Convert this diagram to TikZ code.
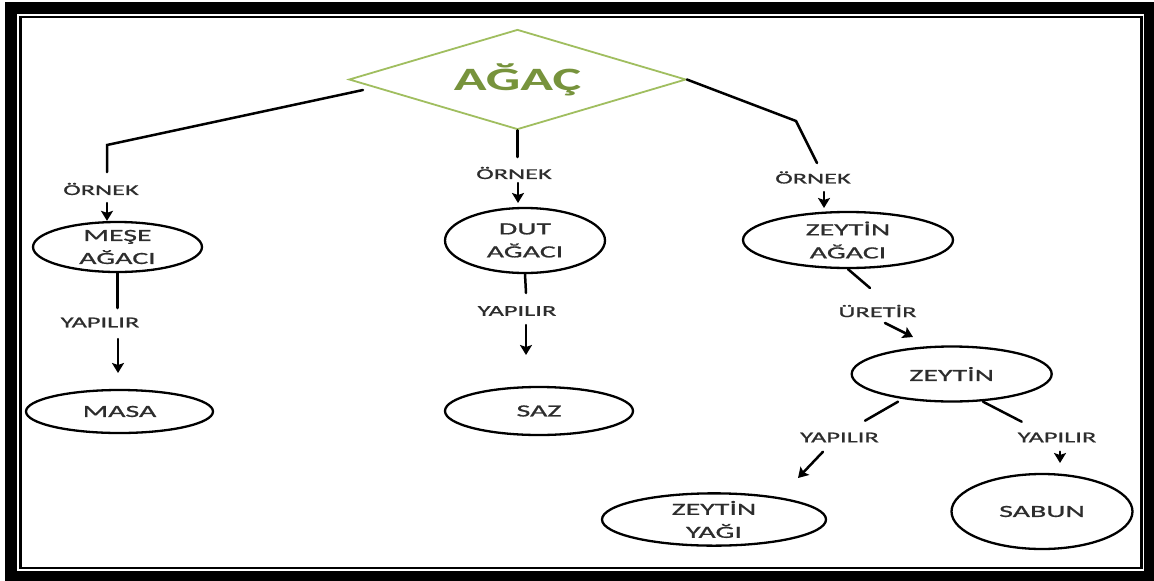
\documentclass[tikz,border=0pt]{standalone}
\usepackage{fontspec}
\usetikzlibrary{shapes.geometric,arrows.meta}
\newfontfamily\nf{Carlito}[FakeStretch=1.76,FakeBold=0.9]
\newfontfamily\tf{Carlito}[FakeStretch=1.66]
\definecolor{txt}{RGB}{45,45,45}
\definecolor{olivedk}{RGB}{119,147,60}
\definecolor{olivelt}{RGB}{160,190,95}
\begin{document}
\begin{tikzpicture}[x=1pt,y=-1pt,
  ell/.style={draw=black, line width=2.3pt, ellipse, inner sep=0pt, text=txt,
    font={\nf\fontsize{17}{23}\selectfont}, align=center},
  lbl/.style={text=txt, font={\nf\fontsize{15}{18}\selectfont}, inner sep=0pt},
  conn/.style={line width=2.5pt, line cap=round},
  arr/.style={conn, -{Stealth[length=10pt,width=12pt,inset=2pt]}}]
\useasboundingbox (0,0) rectangle (1154,581);
% frame
\fill[black] (5,2) rectangle (1154,581);
\fill[white] (17,14) rectangle (1144,571);
\draw[line width=2.7pt] (20.3,17) rectangle (1141.3,568);

% title
\node[diamond, draw=olivelt, line width=1.8pt, aspect=3.37, minimum width=337pt,
  minimum height=100pt, inner sep=0pt, text=olivedk,
  font={\tf\bfseries\fontsize{32.6}{36}\selectfont}] (agac) at (517.5,79.5) {AĞAÇ};

% nodes
\node[ell, minimum width=169pt, minimum height=50pt] (mese) at (117.5,247) {MEŞE\\AĞACI};
\node[ell, minimum width=187pt, minimum height=43pt] (masa) at (119.5,411.5) {MASA};
\node[ell, minimum width=160pt, minimum height=65pt] (dut) at (525,240.5) {DUT\\AĞACI};
\node[ell, minimum width=188pt, minimum height=48pt] (saz) at (539,411) {SAZ};
\node[ell, minimum width=210pt, minimum height=56pt] (zag) at (848,240) {ZEYTİN\\AĞACI};
\node[ell, minimum width=200pt, minimum height=55pt] (zey) at (951.7,374) {ZEYTİN};
\node[ell, minimum width=224pt, minimum height=49pt] (yag) at (714,519.5) {ZEYTİN\\YAĞI};
\node[ell, minimum width=181pt, minimum height=75pt] (sab) at (1042,511.5) {SABUN};

% labels
\node[lbl] (o1) at (101,189) {ÖRNEK};
\node[lbl] (y1) at (100,322.5) {YAPILIR};
\node[lbl] (o2) at (514,173) {ÖRNEK};
\node[lbl] (y2) at (517,311) {YAPILIR};
\node[lbl] (o3) at (813,177.5) {ÖRNEK};
\node[lbl] (u3) at (877.5,311) {ÜRETİR};
\node[lbl] (y3) at (839.5,437.5) {YAPILIR};
\node[lbl] (y4) at (1057,437.5) {YAPILIR};

% coordinates
\coordinate (l0) at (363,90);
\coordinate (l1) at (107,145);
\coordinate (l2) at (107,172);
\coordinate (la) at (107,203);
\coordinate (lb) at (117.5,308);
\coordinate (lc) at (118,339);
\coordinate (ld) at (118,373);
\coordinate (m1) at (517.5,157);
\coordinate (ma) at (518,183);
\coordinate (mb) at (518,203);
\coordinate (mc) at (526,293);
\coordinate (md) at (526,325);
\coordinate (me) at (526,355);
\coordinate (r1) at (796,121);
\coordinate (r2) at (817,163);
\coordinate (ra) at (824,192);
\coordinate (rb) at (824,208);
\coordinate (rc) at (870,288);
\coordinate (rd) at (885,323);
\coordinate (re) at (913,337);
\coordinate (s1) at (898,401.7);
\coordinate (s2) at (865,420.7);
\coordinate (s3) at (983,401.7);
\coordinate (s4) at (1021.7,421.7);
\coordinate (sa) at (823,451.7);
\coordinate (sb) at (798,478);
\coordinate (sc) at (1060,451.7);
\coordinate (sd) at (1060,463);

% connectors
\draw[conn] (l0) -- (l1) -- (l2);
\draw[arr] (la) -- (la |- mese.north);
\draw[conn] (mese.south) -- (lb);
\draw[arr] (lc) -- (ld);
\draw[conn] (agac.south) -- (m1);
\draw[arr] (ma) -- (mb);
\draw[conn] (dut.south) -- (mc);
\draw[arr] (md) -- (me);
\draw[conn] (agac.east) -- (r1) -- (r2);
\draw[arr] (ra) -- (rb);
\draw[conn] (zag.south) -- (rc);
\draw[arr] (rd) -- (re);
\draw[conn] (s1) -- (s2);
\draw[conn] (s3) -- (s4);
\draw[arr] (sa) -- (sb);
\draw[arr] (sc) -- (sd);
\end{tikzpicture}
\end{document}
